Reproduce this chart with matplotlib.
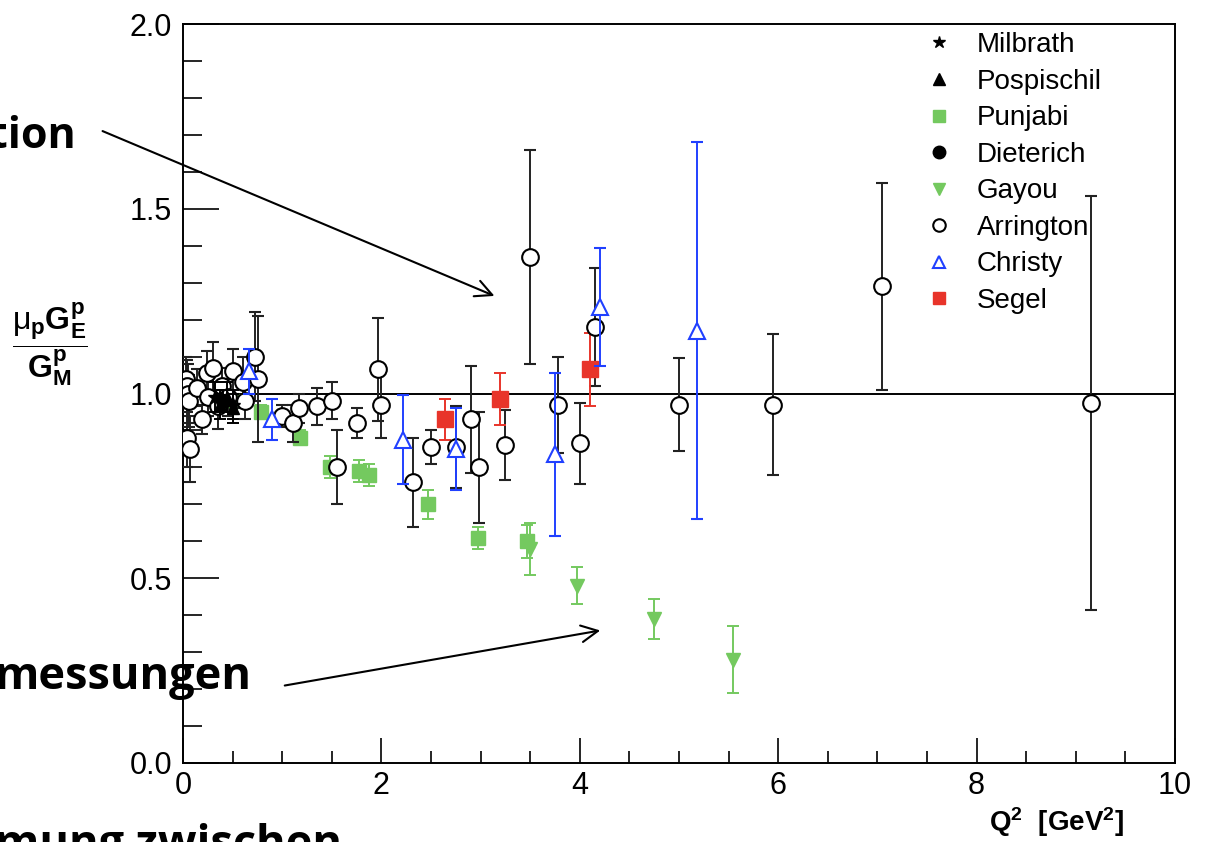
import matplotlib
matplotlib.use("Agg")
import matplotlib.pyplot as plt
from matplotlib.ticker import MultipleLocator
from matplotlib.lines import Line2D
from matplotlib.patches import FancyArrowPatch

plt.rcParams['font.family'] = ['Liberation Sans', 'DejaVu Sans']
plt.rcParams['mathtext.fontset'] = 'custom'
plt.rcParams['mathtext.rm'] = 'Liberation Sans'
plt.rcParams['mathtext.it'] = 'Liberation Sans'
plt.rcParams['mathtext.bf'] = 'Liberation Sans:bold'

# data: Q^2, ratio, error
milbrath_x = [0.32, 0.50]
milbrath_y = [0.99, 0.97]
milbrath_e = [0.04, 0.04]

pospischil_x = [0.37, 0.44, 0.50]
pospischil_y = [0.97, 0.99, 0.96]
pospischil_e = [0.04, 0.04, 0.04]

punjabi_x = [0.49, 0.79, 1.18, 1.48, 1.77, 1.88, 2.47, 2.97, 3.47]
punjabi_y = [0.98, 0.95, 0.88, 0.80, 0.79, 0.78, 0.70, 0.61, 0.60]
punjabi_e = [0.02, 0.02, 0.02, 0.03, 0.03, 0.03, 0.04, 0.03, 0.045]

dieterich_x = [0.40]
dieterich_y = [0.98]
dieterich_e = [0.03]

gayou_x = [3.50, 3.97, 4.75, 5.54]
gayou_y = [0.58, 0.48, 0.39, 0.28]
gayou_e = [0.07, 0.05, 0.055, 0.09]

arrington_x = [0.03, 0.04, 0.05, 0.06, 0.04, 0.07, 0.14, 0.19, 0.24, 0.25, 0.30,
               0.35, 0.39, 0.45, 0.50, 0.60, 0.62, 0.73, 0.76, 1.00, 1.11, 1.17,
               1.35, 1.50, 1.55, 1.75, 1.97, 2.00, 2.32, 2.50, 2.75, 2.90, 2.98,
               3.25, 3.50, 3.78, 4.00, 4.15, 5.00, 5.95, 7.05, 9.15]
arrington_y = [1.04, 1.02, 1.00, 0.98, 0.88, 0.85, 1.015, 0.93, 1.055, 0.99, 1.07,
               0.965, 1.02, 0.99, 1.06, 1.03, 0.98, 1.10, 1.04, 0.94, 0.92, 0.96,
               0.965, 0.98, 0.80, 0.92, 1.065, 0.97, 0.76, 0.855, 0.855, 0.93, 0.80,
               0.86, 1.37, 0.97, 0.865, 1.18, 0.97, 0.97, 1.29, 0.975]
arrington_e = [0.06, 0.07, 0.08, 0.07, 0.08, 0.09, 0.05, 0.04, 0.06, 0.05, 0.07,
               0.06, 0.05, 0.05, 0.06, 0.07, 0.05, 0.12, 0.17, 0.03, 0.05, 0.04,
               0.05, 0.05, 0.10, 0.04, 0.14, 0.09, 0.12, 0.045, 0.11, 0.145, 0.15,
               0.095, 0.29, 0.13, 0.11, 0.16, 0.125, 0.19, 0.28, 0.56]

christy_x = [0.67, 0.90, 2.22, 2.75, 3.75, 4.20, 5.18]
christy_y = [1.06, 0.93, 0.875, 0.85, 0.835, 1.235, 1.17]
christy_e = [0.06, 0.055, 0.12, 0.11, 0.22, 0.16, 0.51]

segel_x = [2.64, 3.20, 4.10]
segel_y = [0.93, 0.985, 1.065]
segel_e = [0.055, 0.07, 0.10]

legend_names = ['Milbrath', 'Pospischil', 'Punjabi', 'Dieterich', 'Gayou', 'Arrington', 'Christy', 'Segel']

green = '#74c95f'
red = '#e8342a'
blue = '#2040ff'
dark = '#222222'

fig = plt.figure(figsize=(12.11, 8.42), dpi=100)
W, H = 1211, 842
ax = fig.add_axes([183 / W, 1 - 763 / H, (1175 - 183) / W, (763 - 24) / H])

eb = dict(linestyle='none', elinewidth=1.4, capsize=4, capthick=1.4)

ax.axhline(1.0, color='black', lw=1.4, zorder=1)

ax.errorbar(arrington_x, arrington_y, yerr=arrington_e, marker='o', ms=12,
            mfc='white', mec='black', mew=1.5, color=dark, zorder=3, **eb)
ax.errorbar(punjabi_x, punjabi_y, yerr=punjabi_e, marker='s', ms=10,
            color=green, mec=green, zorder=2, **eb)
ax.errorbar(gayou_x, gayou_y, yerr=gayou_e, marker='v', ms=10,
            color=green, mec=green, zorder=2, **eb)
ax.errorbar(christy_x, christy_y, yerr=christy_e, marker='^', ms=12,
            mfc='white', mec=blue, mew=1.5, color=blue, zorder=4, **eb)
ax.errorbar(segel_x, segel_y, yerr=segel_e, marker='s', ms=11,
            color=red, mec=red, zorder=3, **eb)
ax.errorbar(milbrath_x, milbrath_y, yerr=milbrath_e, marker='*', ms=10,
            color='black', zorder=5, **eb)
ax.errorbar(pospischil_x, pospischil_y, yerr=pospischil_e, marker='^', ms=9,
            color='black', zorder=5, **eb)
ax.errorbar(dieterich_x, dieterich_y, yerr=dieterich_e, marker='o', ms=10,
            color='black', zorder=5, **eb)

ax.set_xlim(0, 10)
ax.set_ylim(0, 2)
ax.xaxis.set_minor_locator(MultipleLocator(0.5))
ax.yaxis.set_minor_locator(MultipleLocator(0.1))
ax.set_xticks([0, 2, 4, 6, 8, 10])
ax.set_xticklabels(['0', '2', '4', '6', '8', '10'])
ax.set_yticks([0, 0.5, 1.0, 1.5, 2.0])
ax.set_yticklabels(['0.0', '0.5', '1.0', '1.5', '2.0'])
ax.tick_params(axis='both', which='both', direction='in', labelsize=22, width=1.2)
ax.tick_params(axis='x', which='major', length=18, pad=6)
ax.tick_params(axis='x', which='minor', length=9)
ax.tick_params(axis='y', which='major', length=26, pad=8)
ax.tick_params(axis='y', which='minor', length=14)
for s in ax.spines.values():
    s.set_linewidth(1.4)

# legend: markers only
mk = [dict(marker='*', color='black', ms=9),
      dict(marker='^', color='black', ms=9),
      dict(marker='s', color=green, ms=9),
      dict(marker='o', color='black', ms=9),
      dict(marker='v', color=green, ms=9),
      dict(marker='o', mfc='white', mec='black', mew=1.5, ms=9),
      dict(marker='^', mfc='white', mec=blue, mew=1.5, ms=9),
      dict(marker='s', color=red, ms=9)]
handles = [Line2D([], [], linestyle='none', **m) for m in mk]
ax.legend(handles, legend_names, loc='upper left', bbox_to_anchor=(0.737, 1.004),
          frameon=False, fontsize=20, handlelength=1.0, borderaxespad=0,
          labelspacing=0.38, handletextpad=0.85)

fig.text(1057 / W, 1 - 822 / H, r'$\mathbf{Q^2}$  [$\mathbf{GeV^2}$]', fontsize=20,
         fontweight='bold', ha='center', va='center')

fig.text(50 / W, 1 - 345 / H,
         r'$\dfrac{\mu_{\mathbf{p}}\mathbf{G}^{\mathbf{p}}_{\mathbf{E}}}{\mathbf{G}^{\mathbf{p}}_{\mathbf{M}}}$',
         fontsize=23, ha='center', va='center')

# annotation texts, cut at the left edge as in the picture
ann = dict(fontweight='bold', family=['Open Sans', 'DejaVu Sans'])
fig.text(-11 / W, 1 - 137 / H, 'tion', ha='left', va='center', fontsize=31, **ann)
fig.text(-5 / W, 1 - 678 / H, 'messungen', ha='left', va='center', fontsize=32.5, **ann)
fig.text(-5 / W, 1 - 846 / H, 'mung zwischen', ha='left', va='center', fontsize=32.5, **ann)

ap = dict(arrowstyle='->', lw=1.5, color='black', mutation_scale=30)
fig.patches.append(FancyArrowPatch((100 / W, 1 - 130 / H), (497 / W, 1 - 297 / H),
                                   transform=fig.transFigure, **ap))
fig.patches.append(FancyArrowPatch((282 / W, 1 - 686 / H), (603 / W, 1 - 630 / H),
                                   transform=fig.transFigure, **ap))

fig.savefig('out.png', dpi=100)
